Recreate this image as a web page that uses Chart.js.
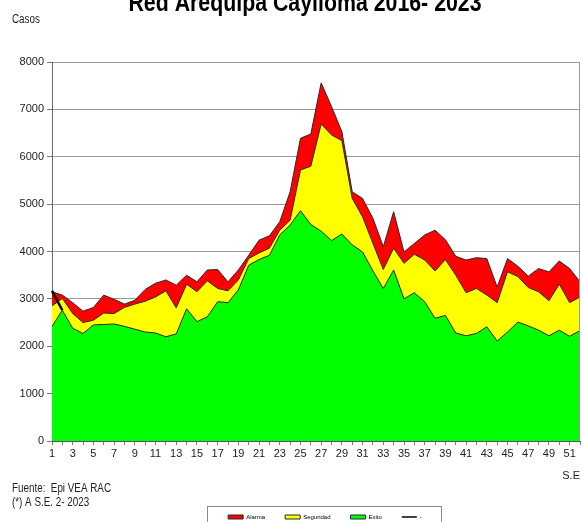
<!DOCTYPE html>
<html>
<head>
<meta charset="utf-8">
<script src="https://cdn.jsdelivr.net/npm/chart.js@4"></script>
<style>
  html, body { margin: 0; padding: 0; background: #fff; overflow: hidden; }
  #wrap { position: relative; width: 582px; height: 522px; }
</style>
</head>
<body>
<div id="wrap"><canvas id="canalChart"></canvas></div>
<script>
// semanas epidemiologicas
const semanas = ['1','2','3','4','5','6','7','8','9','10','11','12','13','14','15','16','17','18','19','20',
  '21','22','23','24','25','26','27','28','29','30','31','32','33','34','35','36','37','38','39','40',
  '41','42','43','44','45','46','47','48','49','50','51','52'];

const alarma = [3150, 3080, 2920, 2740, 2820, 3080, 2990, 2890, 2970, 3200, 3330, 3400, 3290, 3500, 3360, 3610,
  3620, 3360, 3610, 3920, 4240, 4330, 4630, 5260, 6390, 6480, 7560, 7060, 6530, 5260, 5120, 4700,
  4100, 4840, 3990, 4170, 4350, 4450, 4250, 3900, 3820, 3870, 3850, 3250, 3850, 3690, 3480, 3640,
  3570, 3800, 3640, 3360];

const seguridad = [2850, 3010, 2690, 2500, 2550, 2700, 2690, 2820, 2890, 2950, 3040, 3170, 2810, 3310, 3150, 3380,
  3220, 3170, 3400, 3850, 3970, 4070, 4450, 4660, 5720, 5800, 6690, 6460, 6340, 5120, 4730, 4170,
  3620, 4070, 3750, 3940, 3820, 3590, 3830, 3500, 3130, 3220, 3080, 2920, 3570, 3470, 3240, 3150,
  2960, 3310, 2920, 3040];

const exito = [2420, 2760, 2380, 2270, 2450, 2460, 2470, 2420, 2360, 2300, 2280, 2200, 2260, 2790, 2520, 2620,
  2940, 2920, 3190, 3710, 3830, 3920, 4350, 4560, 4860, 4570, 4430, 4230, 4370, 4140, 3990, 3590,
  3220, 3610, 3000, 3130, 2940, 2590, 2650, 2280, 2220, 2270, 2410, 2110, 2300, 2510, 2430, 2340,
  2220, 2340, 2210, 2330];

// casos 2023 (hasta S.E. 2)
const casos2023 = [3170, 2760];

const xTickLabels = ['1','3','5','7','9','11','13','15','17','19','21','23','25','27','29','31','33','35','37','39',
  '41','43','45','47','49','51'];
const yTicks = [0, 1000, 2000, 3000, 4000, 5000, 6000, 7000, 8000];

const FONT = "'Liberation Sans', Arial, sans-serif";
const LEGEND_SHIFT = 9;

// texto angosto (tipo Arial Narrow)
function narrowText(ctx, text, x, y, font, align) {
  ctx.save();
  ctx.font = font;
  ctx.textAlign = align;
  ctx.translate(x, y);
  ctx.scale(0.82, 1);
  ctx.fillText(text, 0, 0);
  ctx.restore();
}

const textosPlugin = {
  id: 'textos',
  beforeDraw(chart) {
    chart.legend.left += LEGEND_SHIFT;
    chart.legend.right += LEGEND_SHIFT;
  },
  afterDraw(chart) {
    const ctx = chart.ctx;
    const a = chart.chartArea;
    chart.legend.left -= LEGEND_SHIFT;
    chart.legend.right -= LEGEND_SHIFT;
    ctx.save();
    // borde derecho del area
    ctx.strokeStyle = '#9a9a9a';
    ctx.lineWidth = 1;
    ctx.beginPath();
    ctx.moveTo(a.right - 0.5, a.top);
    ctx.lineTo(a.right - 0.5, a.bottom);
    ctx.stroke();

    ctx.fillStyle = '#000';
    ctx.textBaseline = 'alphabetic';
    narrowText(ctx, 'Red Arequipa Caylloma 2016- 2023', 305, 11, "bold 26px 'Liberation Sans', Arial, sans-serif", 'center');

    ctx.textBaseline = 'middle';
    ctx.fillStyle = '#222';
    narrowText(ctx, 'Casos', 12, 20, '12px ' + FONT, 'left');
    narrowText(ctx, 'Fuente:  Epi VEA RAC', 12, 489, '12px ' + FONT, 'left');
    narrowText(ctx, '(*) A S.E. 2- 2023', 12, 503, '12px ' + FONT, 'left');

    // marco de la leyenda
    const hb = chart.legend.legendHitBoxes;
    if (hb && hb.length) {
      const left = Math.min(...hb.map(h => h.left)) + LEGEND_SHIFT - 21;
      const right = Math.max(...hb.map(h => h.left + h.width)) + LEGEND_SHIFT + 19;
      const top = hb[0].top - 8;
      ctx.strokeStyle = '#8a8a8a';
      ctx.strokeRect(Math.round(left) + 0.5, Math.round(top) + 0.5, Math.round(right - left), 40);
    }
    ctx.restore();
  }
};

new Chart(document.getElementById('canalChart'), {
  type: 'line',
  data: {
    labels: semanas,
    datasets: [
      {
        label: 'Alarma',
        data: alarma,
        backgroundColor: '#FF0000',
        borderColor: '#2a2a2a',
        borderWidth: 1,
        fill: 'origin',
        pointRadius: 0,
        pointStyle: 'rect',
        tension: 0,
        order: 3,
      },
      {
        label: 'Seguridad',
        data: seguridad,
        backgroundColor: '#FFFF00',
        borderColor: '#2a2a2a',
        borderWidth: 1,
        fill: 'origin',
        pointRadius: 0,
        pointStyle: 'rect',
        tension: 0,
        order: 2,
      },
      {
        label: 'Exito',
        data: exito,
        backgroundColor: '#00FF00',
        borderColor: '#2a2a2a',
        borderWidth: 1,
        fill: 'origin',
        pointRadius: 0,
        pointStyle: 'rect',
        tension: 0,
        order: 1,
      },
      {
        label: '-',
        data: casos2023,
        backgroundColor: '#000',
        borderColor: '#000',
        borderWidth: 2.5,
        pointBorderWidth: 1.5,
        fill: false,
        pointRadius: 0,
        pointStyle: 'line',
        tension: 0,
        order: 0,
      },
    ],
  },
  options: {
    responsive: true,
    maintainAspectRatio: false,
    animation: false,
    devicePixelRatio: 1,
    layout: {
      padding: { top: 62, right: 1, left: 0, bottom: 0 },
    },
    plugins: {
      tooltip: { enabled: false },
      title: { display: false },
      legend: {
        position: 'bottom',
        fullSize: false,
        maxHeight: 28,
        labels: {
          usePointStyle: true,
          pointStyleWidth: 15,
          boxHeight: 4,
          padding: 20,
          color: '#000',
          font: { family: FONT, size: 6 },
          sort: (a, b) => a.datasetIndex - b.datasetIndex,
        },
      },
    },
    scales: {
      x: {
        afterFit(scale) { scale.height = 53; },
        grid: {
          display: true,
          drawOnChartArea: false,
          tickLength: 4,
          color: '#777',
        },
        border: { color: '#555' },
        ticks: {
          autoSkip: false,
          maxRotation: 0,
          padding: 2,
          color: '#222',
          font: { family: FONT, size: 11 },
          callback(value) {
            const lab = semanas[value];
            return xTickLabels.includes(lab) ? lab : '';
          },
        },
        title: {
          display: true,
          text: 'S.E',
          align: 'end',
          color: '#222',
          font: { family: FONT, size: 11 },
          padding: { top: 0, bottom: 11 },
        },
      },
      y: {
        min: yTicks[0],
        max: yTicks[yTicks.length - 1],
        afterFit(scale) { scale.width = 52; },
        afterBuildTicks(scale) { scale.ticks = yTicks.map(v => ({ value: v })); },
        grid: {
          color: '#9a9a9a',
          tickLength: 5,
          tickColor: '#777',
        },
        border: { color: '#666' },
        ticks: {
          padding: 3,
          color: '#222',
          font: { family: FONT, size: 11 },
          callback: (value) => String(value),
        },
      },
    },
  },
  plugins: [textosPlugin],
});
</script>
</body>
</html>
